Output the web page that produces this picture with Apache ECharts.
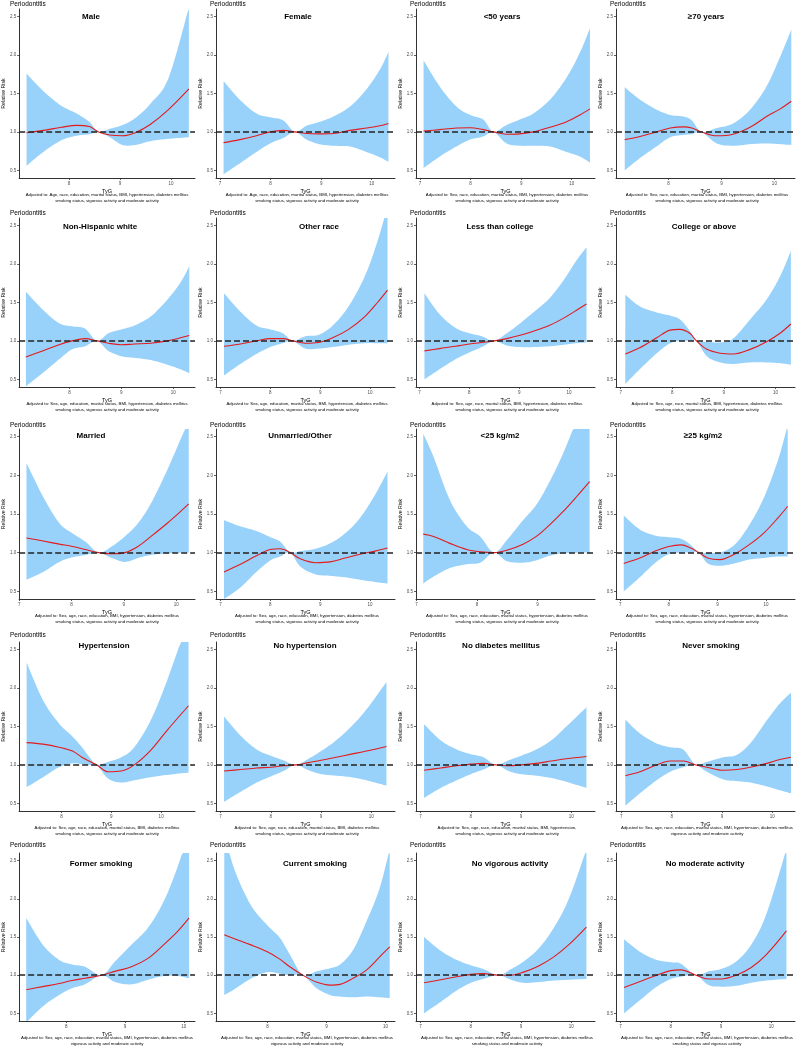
<!DOCTYPE html>
<html>
<head>
<meta charset="utf-8">
<script src="https://cdn.jsdelivr.net/npm/echarts@6/dist/echarts.min.js"></script>
<style>
  html, body { margin: 0; padding: 0; background: #fff; }
  #main { width: 800px; height: 1047px; }
</style>
</head>
<body>
<div id="main"></div>
<script>
// ---- data ----
const panelTitles = [
  'Male', 'Female', '<50 years', '\u226570 years',
  'Non-Hispanic white', 'Other race', 'Less than college', 'College or above',
  'Married', 'Unmarried/Other', '<25 kg/m2', '\u226525 kg/m2',
  'Hypertension', 'No hypertension', 'No diabetes mellitus', 'Never smoking',
  'Former smoking', 'Current smoking', 'No vigorous activity', 'No moderate activity'
];
const tail1 = 'smoking status, vigorous activity and moderate activity';
const noteLine1 = [
  'Adjusted to: Age, race, education, marital status, BMI, hypertension, diabetes mellitus',
  'Adjusted to: Age, race, education, marital status, BMI, hypertension, diabetes mellitus',
  'Adjusted to: Sex, race, education, marital status, BMI, hypertension, diabetes mellitus',
  'Adjusted to: Sex, race, education, marital status, BMI, hypertension, diabetes mellitus',
  'Adjusted to: Sex, age, education, marital status, BMI, hypertension, diabetes mellitus',
  'Adjusted to: Sex, age, education, marital status, BMI, hypertension, diabetes mellitus',
  'Adjusted to: Sex, age, race, marital status, BMI, hypertension, diabetes mellitus',
  'Adjusted to: Sex, age, race, marital status, BMI, hypertension, diabetes mellitus',
  'Adjusted to: Sex, age, race, education, BMI, hypertension, diabetes mellitus',
  'Adjusted to: Sex, age, race, education, BMI, hypertension, diabetes mellitus',
  'Adjusted to: Sex, age, race, education, marital status, hypertension, diabetes mellitus',
  'Adjusted to: Sex, age, race, education, marital status, hypertension, diabetes mellitus',
  'Adjusted to: Sex, age, race, education, marital status, BMI, diabetes mellitus',
  'Adjusted to: Sex, age, race, education, marital status, BMI, diabetes mellitus',
  'Adjusted to: Sex, age, race, education, marital status, BMI, hypertension,',
  'Adjusted to: Sex, age, race, education, marital status, BMI, hypertension, diabetes mellitus',
  'Adjusted to: Sex, age, race, education, marital status, BMI, hypertension, diabetes mellitus',
  'Adjusted to: Sex, age, race, education, marital status, BMI, hypertension, diabetes mellitus',
  'Adjusted to: Sex, age, race, education, marital status, BMI, hypertension, diabetes mellitus',
  'Adjusted to: Sex, age, race, education, marital status, BMI, hypertension, diabetes mellitus'
];
const noteLine2 = [
  tail1, tail1, tail1, tail1, tail1, tail1, tail1, tail1, tail1, tail1,
  tail1, tail1, tail1, tail1, tail1,
  'vigorous activity and moderate activity',
  'vigorous activity and moderate activity',
  'vigorous activity and moderate activity',
  'smoking status and moderate activity',
  'smoking status and vigorous activity'
];
const riskTicks = [0.5, 1.0, 1.5, 2.0, 2.5];
const tygTicks = [
  [8, 9, 10], [7, 8, 9, 10], [7, 8, 9, 10], [8, 9, 10],
  [8, 9, 10], [7, 8, 9, 10], [7, 8, 9, 10], [7, 8, 9, 10],
  [7, 8, 9, 10], [7, 8, 9, 10], [7, 8, 9], [7, 8, 9, 10],
  [8, 9, 10], [7, 8, 9, 10], [7, 8, 9, 10], [7, 8, 9, 10],
  [8, 9, 10], [8, 9, 10], [7, 8, 9, 10], [7, 8, 9, 10]
];
const tygValues = [
  [7.17, 7.5, 7.85, 8.15, 8.4, 8.58, 8.8, 9.05, 9.3, 9.6, 9.95, 10.35],
  [7.07, 7.39, 7.72, 7.99, 8.25, 8.48, 8.71, 8.97, 9.24, 9.57, 9.89, 10.16, 10.33],
  [7.07, 7.39, 7.72, 7.99, 8.25, 8.45, 8.71, 8.97, 9.24, 9.57, 9.89, 10.16, 10.36],
  [7.17, 7.46, 7.77, 8.03, 8.28, 8.44, 8.62, 8.91, 9.22, 9.54, 9.85, 10.11, 10.32],
  [7.16, 7.48, 7.8, 8.05, 8.3, 8.53, 8.75, 9.0, 9.25, 9.57, 9.89, 10.14, 10.31],
  [7.07, 7.4, 7.72, 8.0, 8.25, 8.45, 8.7, 8.97, 9.25, 9.57, 9.9, 10.15, 10.35],
  [7.1, 7.4, 7.72, 8.0, 8.25, 8.5, 8.75, 9.0, 9.3, 9.6, 9.9, 10.15, 10.35],
  [7.09, 7.37, 7.7, 7.96, 8.15, 8.34, 8.47, 8.67, 8.93, 9.18, 9.51, 9.83, 10.09, 10.3],
  [7.14, 7.46, 7.77, 8.02, 8.27, 8.52, 8.77, 9.02, 9.27, 9.52, 9.83, 10.08, 10.24],
  [7.07, 7.4, 7.72, 8.0, 8.2, 8.4, 8.6, 8.9, 9.2, 9.5, 9.8, 10.1, 10.35],
  [7.11, 7.28, 7.55, 7.83, 8.05, 8.28, 8.49, 8.76, 8.98, 9.2, 9.42, 9.64, 9.86],
  [7.07, 7.4, 7.72, 8.0, 8.25, 8.45, 8.62, 8.8, 9.05, 9.35, 9.65, 9.95, 10.25, 10.45],
  [7.3, 7.63, 7.95, 8.22, 8.41, 8.61, 8.71, 8.94, 9.2, 9.46, 9.79, 10.12, 10.55],
  [7.07, 7.4, 7.72, 8.0, 8.25, 8.5, 8.75, 9.0, 9.3, 9.6, 9.9, 10.3],
  [7.07, 7.4, 7.72, 8.0, 8.25, 8.5, 8.75, 9.0, 9.3, 9.6, 9.9, 10.3],
  [7.08, 7.37, 7.7, 7.97, 8.23, 8.48, 8.7, 9.03, 9.29, 9.56, 9.89, 10.15, 10.37],
  [7.32, 7.6, 7.88, 8.1, 8.32, 8.6, 8.83, 9.11, 9.39, 9.66, 9.89, 10.09],
  [7.27, 7.43, 7.71, 7.99, 8.21, 8.38, 8.6, 8.83, 9.06, 9.23, 9.45, 9.68, 9.9, 10.07],
  [7.07, 7.4, 7.72, 8.0, 8.25, 8.55, 8.8, 9.05, 9.35, 9.65, 9.95, 10.3],
  [7.07, 7.4, 7.72, 8.0, 8.2, 8.5, 8.75, 9.0, 9.3, 9.6, 9.9, 10.3]
];
const fitValues = [
  [0.99, 1.02, 1.06, 1.085, 1.07, 1.0, 0.96, 0.95, 0.99, 1.1, 1.29, 1.56],
  [0.86, 0.9, 0.95, 1.0, 1.02, 1.0, 0.98, 0.975, 0.98, 1.02, 1.05, 1.08, 1.11],
  [1.01, 1.03, 1.05, 1.055, 1.03, 1.0, 0.97, 0.975, 1.0, 1.06, 1.13, 1.22, 1.3],
  [0.9, 0.94, 1.0, 1.05, 1.065, 1.05, 1.0, 0.95, 0.97, 1.06, 1.2, 1.3, 1.4],
  [0.79, 0.87, 0.95, 1.0, 1.03, 1.0, 0.97, 0.95, 0.96, 0.97, 1.0, 1.04, 1.07],
  [0.93, 0.96, 1.0, 1.03, 1.03, 1.0, 0.97, 0.98, 1.04, 1.15, 1.32, 1.5, 1.66],
  [0.87, 0.9, 0.93, 0.96, 0.98, 1.0, 1.03, 1.07, 1.13, 1.2, 1.3, 1.4, 1.48],
  [0.83, 0.91, 1.04, 1.14, 1.15, 1.1, 1.0, 0.89, 0.84, 0.83, 0.89, 0.99, 1.1, 1.22],
  [1.19, 1.15, 1.11, 1.08, 1.04, 1.0, 0.985, 1.0, 1.08, 1.21, 1.38, 1.53, 1.63],
  [0.75, 0.85, 0.96, 1.04, 1.05, 1.0, 0.92, 0.87, 0.88, 0.93, 0.98, 1.02, 1.06],
  [1.24, 1.21, 1.12, 1.04, 1.01, 1.0, 1.03, 1.11, 1.21, 1.36, 1.53, 1.72, 1.92],
  [0.86, 0.93, 1.02, 1.08, 1.1, 1.06, 1.0, 0.93, 0.91, 0.98, 1.1, 1.25, 1.45, 1.6],
  [1.29, 1.27, 1.23, 1.18, 1.1, 1.03, 1.0, 0.91, 0.92, 1.0, 1.19, 1.45, 1.77],
  [0.92, 0.94, 0.96, 0.97, 0.99, 1.0, 1.03, 1.06, 1.1, 1.14, 1.18, 1.24],
  [0.93, 0.96, 0.99, 1.01, 1.02, 1.0, 0.99, 1.0, 1.02, 1.05, 1.08, 1.11],
  [0.86, 0.91, 1.0, 1.05, 1.05, 1.0, 0.97, 0.93, 0.94, 0.97, 1.02, 1.07, 1.1],
  [0.81, 0.85, 0.89, 0.93, 0.96, 1.0, 1.05, 1.11, 1.22, 1.4, 1.57, 1.75],
  [1.53, 1.48, 1.4, 1.31, 1.21, 1.11, 1.0, 0.91, 0.87, 0.88, 0.96, 1.07, 1.24, 1.37],
  [0.9, 0.94, 0.98, 1.01, 1.02, 1.0, 1.0, 1.04, 1.12, 1.24, 1.4, 1.63],
  [0.84, 0.92, 1.0, 1.06, 1.07, 1.0, 0.95, 0.95, 1.0, 1.1, 1.27, 1.58]
];
const lowerValues = [
  [0.56, 0.74, 0.89, 0.95, 0.97, 1.0, 0.93, 0.83, 0.83, 0.88, 0.91, 0.93],
  [0.45, 0.59, 0.74, 0.85, 0.92, 1.0, 0.9, 0.84, 0.82, 0.81, 0.74, 0.67, 0.61],
  [0.53, 0.68, 0.81, 0.9, 0.94, 1.0, 0.85, 0.82, 0.82, 0.81, 0.74, 0.68, 0.6],
  [0.5, 0.66, 0.81, 0.93, 0.96, 0.97, 1.0, 0.85, 0.82, 0.84, 0.85, 0.84, 0.83],
  [0.41, 0.58, 0.76, 0.89, 0.93, 1.0, 0.87, 0.8, 0.78, 0.75, 0.69, 0.63, 0.58],
  [0.55, 0.7, 0.83, 0.92, 0.97, 1.0, 0.9, 0.9, 0.92, 0.95, 0.97, 0.97, 0.97],
  [0.5, 0.63, 0.76, 0.85, 0.92, 1.0, 0.94, 0.92, 0.92, 0.93, 0.95, 0.97, 0.98],
  [0.44, 0.63, 0.84, 0.97, 1.0, 1.0, 1.0, 0.8, 0.72, 0.7, 0.72, 0.72, 0.71, 0.69],
  [0.65, 0.75, 0.88, 0.94, 0.97, 1.0, 0.93, 0.88, 0.93, 0.97, 0.99, 1.0, 1.0],
  [0.4, 0.55, 0.75, 0.9, 0.95, 1.0, 0.82, 0.72, 0.7, 0.68, 0.65, 0.62, 0.6],
  [0.6, 0.69, 0.8, 0.85, 0.87, 1.0, 0.89, 0.87, 0.9, 0.96, 0.99, 1.0, 1.0],
  [0.5, 0.68, 0.87, 0.98, 1.0, 1.0, 1.0, 0.86, 0.83, 0.86, 0.91, 0.93, 0.95, 0.95],
  [0.71, 0.84, 0.97, 1.02, 1.01, 1.0, 1.0, 0.82, 0.77, 0.8, 0.84, 0.87, 0.9],
  [0.52, 0.65, 0.77, 0.85, 0.92, 1.0, 0.93, 0.88, 0.86, 0.84, 0.8, 0.73],
  [0.57, 0.7, 0.8, 0.88, 0.94, 1.0, 0.92, 0.88, 0.86, 0.83, 0.78, 0.7],
  [0.47, 0.63, 0.8, 0.91, 0.97, 1.0, 0.91, 0.81, 0.79, 0.77, 0.72, 0.67, 0.63],
  [0.38, 0.59, 0.74, 0.83, 0.88, 1.0, 0.91, 0.88, 0.94, 0.99, 0.99, 0.96],
  [0.74, 0.81, 0.95, 1.04, 1.02, 1.0, 1.0, 0.83, 0.74, 0.72, 0.71, 0.72, 0.71, 0.7],
  [0.5, 0.65, 0.8, 0.9, 0.95, 1.0, 0.94, 0.9, 0.91, 0.93, 0.94, 0.95],
  [0.5, 0.68, 0.85, 0.95, 0.98, 1.0, 0.87, 0.85, 0.86, 0.9, 0.93, 0.95]
];
const upperValues = [
  [1.76, 1.53, 1.34, 1.24, 1.13, 1.0, 1.04, 1.09, 1.18, 1.37, 1.7, 2.62],
  [1.66, 1.42, 1.24, 1.19, 1.15, 1.0, 1.08, 1.13, 1.2, 1.33, 1.55, 1.81, 2.04],
  [1.93, 1.59, 1.33, 1.22, 1.16, 1.0, 1.09, 1.16, 1.24, 1.42, 1.7, 2.03, 2.35],
  [1.58, 1.42, 1.29, 1.22, 1.2, 1.15, 1.0, 1.05, 1.11, 1.29, 1.59, 1.98, 2.33],
  [1.64, 1.41, 1.23, 1.19, 1.16, 1.0, 1.1, 1.15, 1.2, 1.32, 1.54, 1.76, 1.97],
  [1.62, 1.38, 1.2, 1.15, 1.1, 1.0, 1.06, 1.08, 1.2, 1.45, 1.85, 2.3, 2.75],
  [1.62, 1.35, 1.17, 1.1, 1.06, 1.0, 1.1, 1.22, 1.38, 1.55, 1.8, 2.05, 2.22],
  [1.6, 1.45, 1.37, 1.33, 1.28, 1.13, 1.0, 0.99, 0.98, 1.03, 1.28, 1.54, 1.84, 2.17],
  [2.16, 1.72, 1.38, 1.25, 1.14, 1.0, 1.08, 1.21, 1.38, 1.64, 2.07, 2.46, 2.7],
  [1.42, 1.34, 1.28, 1.2, 1.14, 1.0, 1.02, 1.05, 1.12, 1.25, 1.45, 1.75, 2.05],
  [2.54, 2.24, 1.68, 1.34, 1.21, 1.0, 1.16, 1.42, 1.62, 1.92, 2.28, 2.7, 3.1],
  [1.48, 1.3, 1.22, 1.2, 1.18, 1.1, 1.0, 1.0, 1.0, 1.1, 1.35, 1.7, 2.2, 2.65],
  [2.33, 1.84, 1.54, 1.37, 1.23, 1.06, 1.0, 1.04, 1.1, 1.23, 1.58, 2.1, 2.9],
  [1.63, 1.38, 1.2, 1.12, 1.06, 1.0, 1.08, 1.18, 1.32, 1.5, 1.72, 2.08],
  [1.53, 1.32, 1.2, 1.14, 1.1, 1.0, 1.06, 1.12, 1.2, 1.32, 1.5, 1.75],
  [1.59, 1.41, 1.28, 1.23, 1.2, 1.0, 1.04, 1.1, 1.13, 1.28, 1.58, 1.8, 1.94],
  [1.75, 1.4, 1.2, 1.14, 1.11, 1.0, 1.18, 1.4, 1.62, 1.97, 2.41, 2.9],
  [2.9, 2.41, 1.93, 1.66, 1.49, 1.27, 1.0, 1.05, 1.09, 1.14, 1.33, 1.71, 2.14, 2.65],
  [1.5, 1.32, 1.2, 1.13, 1.08, 1.0, 1.08, 1.18, 1.35, 1.62, 2.0, 2.65],
  [1.47, 1.3, 1.2, 1.17, 1.15, 1.0, 1.05, 1.08, 1.18, 1.4, 1.8, 2.65]
];

// ---- layout ----
const xExtent = [
  [7.025, 10.47], [6.92, 10.46], [6.92, 10.46], [7.005, 10.39],
  [7.03, 10.42], [6.91, 10.5], [6.93, 10.52], [6.91, 10.38],
  [7.0, 10.36], [6.91, 10.5], [6.99, 9.95], [6.91, 10.6],
  [7.15, 10.68], [6.91, 10.47], [6.91, 10.47], [6.895, 10.45],
  [7.2, 10.19], [7.13, 10.16], [6.91, 10.47], [6.91, 10.47]
];
const rowTop = [9, 218, 429, 642, 853];
const rowBottom = [178, 387, 599, 811, 1021];
const titleY = [17, 227, 436, 646, 864];
const periodY = [4, 213, 425, 635, 845];
const titleX = [91, 98, 102, 106, 100, 119, 100, 104, 91, 100, 100, 103, 104, 105, 101, 111, 101, 115, 110, 105];

const bandColor = '#98D2FA';
const font = '"Liberation Sans", Arial, sans-serif';

// smooth curve through pixel points (Catmull-Rom), sampled for drawing
function sampleCurve(pts, steps) {
  const S = 1 / 6, out = [], n = pts.length;
  for (let k = 0; k < n - 1; k++) {
    const p0 = pts[Math.max(k - 1, 0)], p1 = pts[k], p2 = pts[k + 1], p3 = pts[Math.min(k + 2, n - 1)];
    const c1 = [p1[0] + (p2[0] - p0[0]) * S, p1[1] + (p2[1] - p0[1]) * S];
    const c2 = [p2[0] - (p3[0] - p1[0]) * S, p2[1] - (p3[1] - p1[1]) * S];
    for (let s = 0; s < steps; s++) {
      const t = s / steps, u = 1 - t;
      const a = u * u * u, b = 3 * u * u * t, c = 3 * u * t * t, d = t * t * t;
      out.push([a * p1[0] + b * c1[0] + c * c2[0] + d * p2[0],
                a * p1[1] + b * c1[1] + c * c2[1] + d * p2[1]]);
    }
  }
  out.push(pts[n - 1]);
  return out;
}

let chart = echarts.init(document.getElementById('main'), null, { renderer: 'canvas' });

let grids = [], xAxes = [], yAxes = [], series = [], graphics = [];

panelTitles.forEach((name, i) => {
  const row = Math.floor(i / 4), col = i % 4;
  const ox = col * 200;
  grids.push({
    left: ox + 16, top: rowTop[row], width: 179,
    height: rowBottom[row] - rowTop[row]
  });
  xAxes.push({
    type: 'value', gridIndex: i,
    min: xExtent[i][0], max: xExtent[i][1],
    name: 'TyG', nameLocation: 'middle', nameGap: 10,
    nameTextStyle: { fontSize: 5.5, color: '#000', fontFamily: font },
    axisLine: { lineStyle: { color: '#333', width: 1 } },
    axisTick: { show: true, length: 2, lineStyle: { color: '#333', width: 0.8 }, customValues: tygTicks[i] },
    axisLabel: { fontSize: 4.5, color: '#4d4d4d', margin: 3, fontFamily: font, customValues: tygTicks[i] },
    splitLine: { show: false }
  });
  yAxes.push({
    type: 'value', gridIndex: i, min: 0.4, max: 2.6,
    name: 'Relative Risk', nameLocation: 'middle', nameGap: 11,
    nameTextStyle: { fontSize: 5.2, color: '#000', fontFamily: font },
    axisLine: { show: true, lineStyle: { color: '#333', width: 1 } },
    axisTick: { show: true, length: 2, lineStyle: { color: '#333', width: 0.8 }, customValues: riskTicks },
    axisLabel: {
      fontSize: 4.5, color: '#4d4d4d', margin: 3, fontFamily: font,
      customValues: riskTicks, formatter: v => v.toFixed(1)
    },
    splitLine: { show: false }
  });

  const xs = tygValues[i];
  // 95% CI band
  series.push({
    type: 'custom', xAxisIndex: i, yAxisIndex: i, silent: true, z: 1, clip: true,
    data: xs.map((x, k) => [x, lowerValues[i][k], upperValues[i][k]]),
    encode: { x: 0, y: [1, 2] },
    renderItem: (params, api) => {
      if (params.dataIndex !== 0) return;
      const cs = params.coordSys;
      const up = sampleCurve(xs.map((x, k) => api.coord([x, upperValues[i][k]])), 10);
      const lo = sampleCurve(xs.map((x, k) => api.coord([x, lowerValues[i][k]])), 10).reverse();
      const pts = up.concat(lo).map(p => [p[0], Math.min(Math.max(p[1], cs.y), cs.y + cs.height)]);
      return { type: 'polygon', shape: { points: pts }, style: { fill: bandColor, stroke: null } };
    }
  });
  series.push({
    type: 'line', xAxisIndex: i, yAxisIndex: i, data: [], z: 3,
    markLine: {
      silent: true, symbol: 'none', label: { show: false },
      lineStyle: { color: '#222', width: 1.5, type: [6, 3] },
      data: [{ yAxis: 1 }]
    }
  });
  series.push({
    type: 'line', xAxisIndex: i, yAxisIndex: i,
    data: xs.map((x, k) => [x, fitValues[i][k]]),
    symbol: 'none', smooth: 0.35, silent: true, z: 4,
    lineStyle: { color: '#E41A1C', width: 1.1 }
  });

  graphics.push({
    type: 'text', x: ox + 10, y: periodY[row],
    style: { text: 'Periodontitis', font: '6.5px ' + font, fill: '#000',
      textVerticalAlign: 'middle', verticalAlign: 'middle' }
  });
  graphics.push({
    type: 'text', x: ox + titleX[i], y: titleY[row],
    style: { text: name, font: 'bold 8px ' + font, fill: '#000',
      textAlign: 'center', align: 'center', textVerticalAlign: 'middle', verticalAlign: 'middle' }
  });
  graphics.push({
    type: 'text', x: ox + 107, y: rowBottom[row] + 17,
    style: { text: noteLine1[i], font: '4.3px ' + font, fill: '#000',
      textAlign: 'center', align: 'center', textVerticalAlign: 'middle', verticalAlign: 'middle' }
  });
  graphics.push({
    type: 'text', x: ox + 107, y: rowBottom[row] + 23,
    style: { text: noteLine2[i], font: '4.3px ' + font, fill: '#000',
      textAlign: 'center', align: 'center', textVerticalAlign: 'middle', verticalAlign: 'middle' }
  });
});

let option = {
  animation: false,
  backgroundColor: '#fff',
  grid: grids,
  xAxis: xAxes,
  yAxis: yAxes,
  series: series,
  graphic: { elements: graphics }
};
chart.setOption(option);
</script>
</body>
</html>
